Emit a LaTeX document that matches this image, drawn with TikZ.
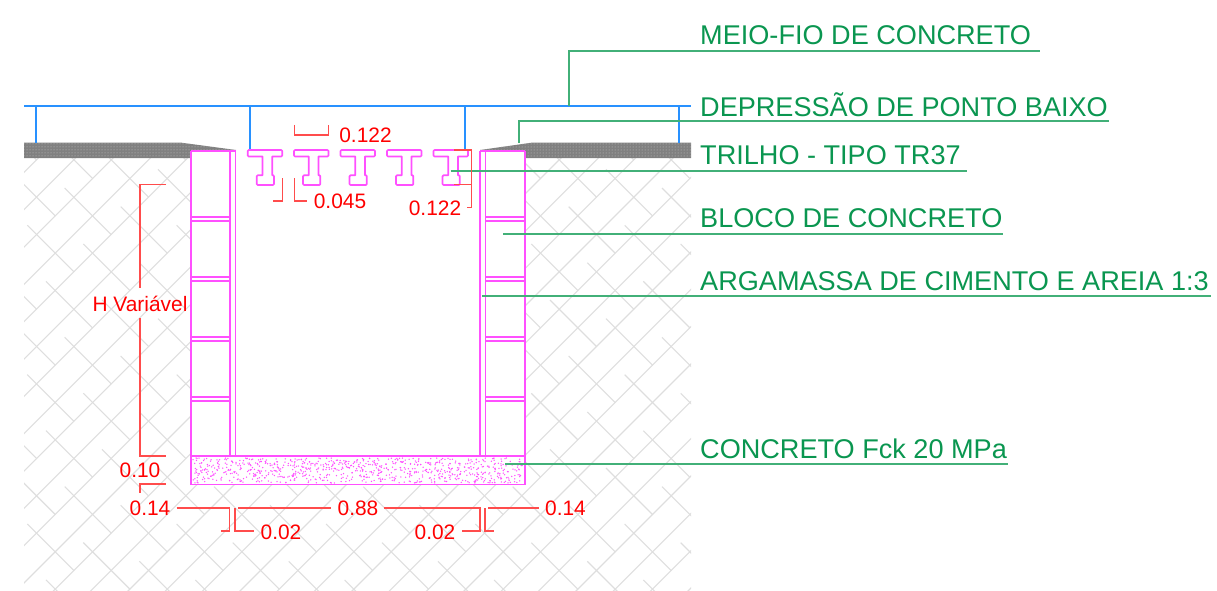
\documentclass[tikz,border=0pt]{standalone}
\usepackage{fontspec}
\setmainfont{Liberation Sans}
\usetikzlibrary{patterns}
\definecolor{leadgreen}{RGB}{66,176,120}
\definecolor{textgreen}{RGB}{10,150,80}
\definecolor{netblue}{RGB}{40,145,255}
\definecolor{wallpink}{RGB}{255,80,255}
\tikzstyle{soil} = [draw=black!13,line width=1.1pt]
\tikzstyle{road} = [fill=black!50]
\tikzstyle{roaddots} = [pattern=dots,pattern color=black!22]
\tikzstyle{net} = [draw=netblue,line width=1.9pt]
\tikzstyle{wall} = [draw=wallpink,line width=1.8pt]
\tikzstyle{rail} = [draw=wallpink,line width=1.7pt,line join=round]
\tikzstyle{leader} = [draw=leadgreen,line width=1.5pt]
\tikzstyle{dim} = [draw=red!70,line width=1.6pt]
\tikzstyle{dimtext} = [text=red,font=\fontsize{20.9}{23}\selectfont,inner sep=0pt]
\tikzstyle{title} = [text=textgreen,font=\fontsize{27.1}{30}\selectfont,inner sep=0pt,anchor=west]
\pgfdeclarelayer{background}
\pgfsetlayers{background,main}
\begin{document}
\begin{tikzpicture}[x=1pt,y=-1pt]
\useasboundingbox (0,0) rectangle (1217,591);

% soil hatch
\begin{pgfonlayer}{background}
\begin{scope}
\clip (24,155) -- (191,155) -- (191,485) -- (525,485) -- (525,155) -- (691,155) -- (691,591) -- (24,591) -- cycle;
\foreach \k in {-19,...,12} {
  \pgfmathsetmacro\c{868.33+37.33*\k}
  \draw[soil] (\c,0) -- (\c-700,700);
}
\foreach \i in {-14,...,5} {
  \foreach \j in {-5,...,10} {
    \pgfmathsetmacro\sx{550+56*\i+18.67*\j}
    \pgfmathsetmacro\sy{300+18.67*\i+56*\j}
    \draw[soil] (\sx,\sy) -- (\sx+46.67,\sy+46.67);
  }
}
\end{scope}
\end{pgfonlayer}

% road
\fill[road] (24,142.5) -- (180,142.5) -- (236,150) -- (191,151) -- (191,158) -- (24,158) -- cycle;
\fill[road] (691,142.5) -- (533,142.5) -- (480,150) -- (525,151) -- (525,158) -- (691,158) -- cycle;
\fill[roaddots] (24,142.5) -- (180,142.5) -- (236,150) -- (191,151) -- (191,158) -- (24,158) -- cycle;
\fill[roaddots] (691,142.5) -- (533,142.5) -- (480,150) -- (525,151) -- (525,158) -- (691,158) -- cycle;

% blue line
\draw[net] (24,105.7) -- (691,105.7);
\foreach \x/\yend in {36/143,250/150,465/150,679/143} {
  \draw[net] (\x,105.7) -- (\x,\yend);
}

% walls
\draw[wall] (191,151) -- (235.5,151);
\draw[wall] (480,151) -- (525,151);
\foreach \x in {191,229.6,235.5,480,485.5,525} {
  \draw[wall] (\x,151) -- (\x,456);
}
\foreach \y in {217,277,337,397} {
  \draw[wall] (191,\y) -- (229.6,\y);
  \draw[wall] (191,\y+4) -- (229.6,\y+4);
  \draw[wall] (485.5,\y) -- (525,\y);
  \draw[wall] (485.5,\y+4) -- (525,\y+4);
}

% concrete base
\draw[wall] (191,456) rectangle (525,484.5);
\pgfmathsetseed{11}
\foreach \i in {1,...,850} {
  \pgfmathsetmacro\px{193+330*rnd}
  \pgfmathsetmacro\py{458+25*rnd}
  \fill[wallpink] (\px,\py) circle (0.75pt);
}

% rails
\foreach \x in {247.7,294,340.5,387,433.5} {
  \begin{scope}[shift={(\x,150)}]
  \draw[rail] (1,0) -- (33.5,0) -- (34.5,1) -- (34.5,5.5) -- (33.5,6.5) -- (24.5,6.5) -- (24.5,25.3)
    -- (25.5,25.3) -- (26.3,26.3) -- (26.3,34) -- (25.3,35) -- (10,35) -- (9,34) -- (9,26.3) -- (10,25.3) -- (14.8,25.3)
    -- (14.8,6.5) -- (1,6.5) -- (0,5.5) -- (0,1) -- cycle;
  \end{scope}
}

% leaders
\draw[leader] (569,105.7) -- (569,51) -- (1040,51);
\draw[leader] (519,143) -- (519,121) -- (1109,121);
\draw[leader] (450.5,171) -- (967,171);
\draw[leader] (503,234) -- (1003,234);
\draw[leader] (482,296) -- (1211,296);
\draw[leader] (505,464) -- (1008,464);

\node[title] (t1) at (700,35) {MEIO-FIO DE CONCRETO};
\node[title] (t2) at (700,105) {DEPRESSÃO DE PONTO BAIXO};
\node[title] (t3) at (700,155) {TRILHO - TIPO TR37};
\node[title] (t4) at (700,218) {BLOCO DE CONCRETO};
\node[title] (t5) at (700,281) {ARGAMASSA DE CIMENTO E AREIA 1:3};
\node[title] (t6) at (700,449) {CONCRETO Fck 20 MPa};

% dimensions
\draw[dim] (294.3,125) -- (294.3,135) -- (328.5,135) -- (328.5,125);
\draw[dim] (282.3,178) -- (282.3,201) -- (273.3,201);
\draw[dim] (294.3,178) -- (294.3,201) -- (306.7,201);
\draw[dim] (454,150) -- (471.4,150) -- (471.4,207.3) -- (467.3,207.3);
\draw[dim] (454,184.3) -- (471.4,184.3);
\draw[dim] (166,184.3) -- (140,184.3) -- (140,288);
\draw[dim] (140,318) -- (140,456) -- (166,456);
\draw[dim] (140,492.7) -- (140,484) -- (166,484);
\draw[dim] (176.7,508) -- (229.3,508) -- (229.3,530.7) -- (220.7,530.7);
\draw[dim] (235,508) -- (235,531) -- (254,531);
\draw[dim] (238.3,508) -- (330.7,508);
\draw[dim] (384.3,508) -- (480,508) -- (480,531) -- (461.7,531);
\draw[dim] (485,508) -- (485,531) -- (494,531);
\draw[dim] (488.3,508) -- (539,508);

\node[dimtext] (d1) at (365.5,135.5) {0.122};
\node[dimtext] (d2) at (340,201.5) {0.045};
\node[dimtext] (d3) at (435,208.5) {0.122};
\node[dimtext] (d4) at (140,303.5) {H Variável};
\node[dimtext] (d5) at (140,470.5) {0.10};
\node[dimtext] (d6) at (150,508.5) {0.14};
\node[dimtext] (d7) at (358,508.5) {0.88};
\node[dimtext] (d8) at (565.5,508.5) {0.14};
\node[dimtext] (d9) at (281,532.5) {0.02};
\node[dimtext] (d10) at (435,532.5) {0.02};
\end{tikzpicture}
\end{document}
